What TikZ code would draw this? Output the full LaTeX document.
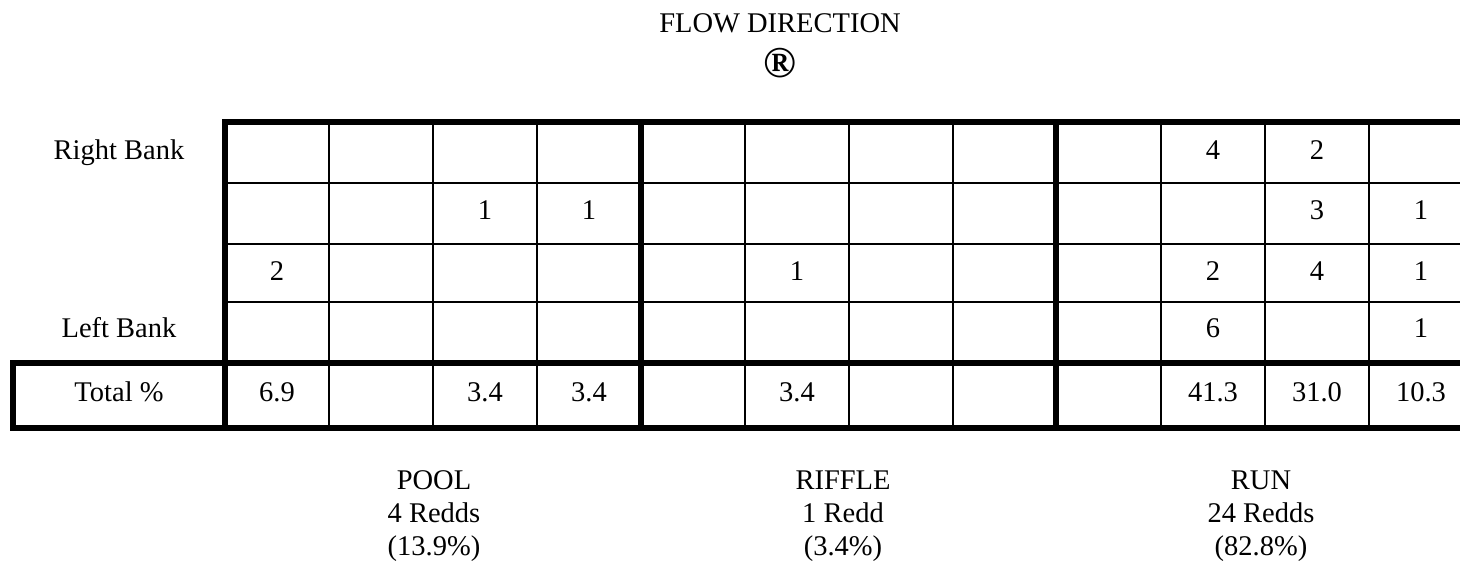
\documentclass[tikz,border=0pt]{standalone}
\usepackage{fontspec}
\setmainfont{Liberation Serif}
\begin{document}
\begin{tikzpicture}[x=0.5pt, y=-0.5pt,
		font=\fontsize{14.25}{16.5}\selectfont,
		thinline/.style={line width=0.9pt},
		thickline/.style={line width=2.8pt},
		cell/.style={anchor=base, inner sep=0pt},
		reach/.style={anchor=north, inner sep=0pt, align=center}]
	\useasboundingbox (0,0) rectangle (1460,563);
	% heading
	\node[cell] (flow) at (780,32) {FLOW DIRECTION};
	\node[inner sep=0pt, font=\fontsize{22}{24}\selectfont\bfseries] (arrow) at (780,63) {®};
	% grid
	\foreach \y in {183,244,302} \draw[thinline] (225,\y) -- (1460,\y);
	\foreach \x in {329,433,537,745,849,953,1161,1265,1369} \draw[thinline] (\x,122) -- (\x,428);
	\draw[thickline] (225,428) -- (225,122) -- (1460,122);
	\draw[thickline] (641,122) -- (641,428) (1056,122) -- (1056,428);
	\draw[thickline] (1460,363) -- (13,363) -- (13,428) -- (1460,428);
	% row labels
	\node[cell] (rb)  at (119,159) {Right Bank};
	\node[cell] (lb)  at (119,337) {Left Bank};
	\node[cell] (tot) at (119,401) {Total \%};
	% counts
	\node[cell] (r1c10) at (1213,159) {4};
	\node[cell] (r1c11) at (1317,159) {2};
	\node[cell] (r2c3)  at (485,219) {1};
	\node[cell] (r2c4)  at (589,219) {1};
	\node[cell] (r2c11) at (1317,219) {3};
	\node[cell] (r2c12) at (1421,219) {1};
	\node[cell] (r3c1)  at (277,280) {2};
	\node[cell] (r3c6)  at (797,280) {1};
	\node[cell] (r3c10) at (1213,280) {2};
	\node[cell] (r3c11) at (1317,280) {4};
	\node[cell] (r3c12) at (1421,280) {1};
	\node[cell] (r4c10) at (1213,337) {6};
	\node[cell] (r4c12) at (1421,337) {1};
	% totals
	\node[cell] (t1)  at (277,401) {6.9};
	\node[cell] (t3)  at (485,401) {3.4};
	\node[cell] (t4)  at (589,401) {3.4};
	\node[cell] (t6)  at (797,401) {3.4};
	\node[cell] (t10) at (1213,401) {41.3};
	\node[cell] (t11) at (1317,401) {31.0};
	\node[cell] (t12) at (1421,401) {10.3};
	% reaches
	\node[reach] (pool)   at (434,470)  {POOL\\4 Redds\\(13.9\%)};
	\node[reach] (riffle) at (843,470)  {RIFFLE\\1 Redd\\(3.4\%)};
	\node[reach] (run)    at (1261,470) {RUN\\24 Redds\\(82.8\%)};
\end{tikzpicture}
\end{document}
